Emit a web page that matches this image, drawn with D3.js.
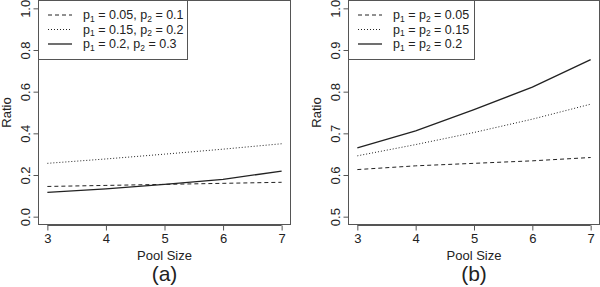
<!DOCTYPE html>
<html lang="en">
<head>
    <meta charset="UTF-8">
    <title>Ratio vs Pool Size</title>
    <script src="https://d3js.org/d3.v7.min.js"></script>
    <style>
        body { margin: 0; background: #fff; }
        text { font-family: "Liberation Sans", Arial, sans-serif; fill: #222; }
        .frame { fill: none; stroke: #555; stroke-width: 1px; }
        .series { fill: none; stroke: #222; }
    </style>
</head>
<body>
    <div id="chart"></div>
    <script>
        var poolSizes = [3, 4, 5, 6, 7];

        // panel (a)
        var seriesA = [
            { label: ["0.05", "0.1"], dash: "dashed", values: [0.145, 0.150, 0.155, 0.160, 0.165] },
            { label: ["0.15", "0.2"], dash: "dotted", values: [0.256, 0.277, 0.300, 0.324, 0.350] },
            { label: ["0.2", "0.3"], dash: "solid", values: [0.117, 0.133, 0.155, 0.179, 0.219] }
        ];
        var yTicksA = [0.0, 0.2, 0.4, 0.6, 0.8, 1.0];

        // panel (b)
        var seriesB = [
            { label: ["0.05"], dash: "dashed", values: [0.613, 0.622, 0.628, 0.634, 0.642] },
            { label: ["0.15"], dash: "dotted", values: [0.646, 0.673, 0.702, 0.734, 0.770] },
            { label: ["0.2"], dash: "solid", values: [0.665, 0.706, 0.757, 0.811, 0.877] }
        ];
        var yTicksB = [0.5, 0.6, 0.7, 0.8, 0.9, 1.0];

        var dashes = { dashed: "4,3", dotted: "1,2", solid: null };
        var colors = { dashed: "#333", dotted: "#777", solid: "#222" };

        var svg = d3.select("#chart").append("svg")
            .attr("width", 600)
            .attr("height", 287);

        function panel(left, right, series, yTicks, tag, sameP) {
            var top = 0, bottom = 225;
            var span = yTicks[5] - yTicks[0];
            var x = d3.scaleLinear().domain([2.84, 7.16]).range([left, right]);
            var y = d3.scaleLinear().domain([yTicks[0] - 0.04 * span, yTicks[5] + 0.04 * span])
                .range([bottom, top]);
            var g = svg.append("g");

            g.append("rect").attr("class", "frame")
                .attr("x", left + 0.5).attr("y", top + 0.5)
                .attr("width", right - left - 1).attr("height", bottom - top - 1);

            var xAxis = g.append("g")
                .attr("transform", "translate(0," + (bottom + 0.5) + ")")
                .call(d3.axisBottom(x).tickValues(poolSizes).tickSize(5).tickPadding(3).tickFormat(d3.format("d")));
            xAxis.select(".domain").attr("d", "M" + x(3) + ",0H" + x(7)).attr("stroke", "#555");
            xAxis.selectAll("line").attr("stroke", "#555");
            xAxis.selectAll("text").attr("font-size", 13);

            var yAxis = g.append("g")
                .attr("transform", "translate(" + (left + 0.5) + ",0)")
                .call(d3.axisLeft(y).tickValues(yTicks).tickSize(5).tickFormat(d3.format(".1f")));
            yAxis.select(".domain").attr("d", "M0," + y(yTicks[0]) + "V" + y(yTicks[5])).attr("stroke", "#555");
            yAxis.selectAll("line").attr("stroke", "#555");
            yAxis.selectAll("text")
                .attr("font-size", 13)
                .attr("text-anchor", "middle")
                .attr("x", null).attr("dy", null)
                .attr("transform", "translate(-9,0) rotate(-90)");

            g.append("text").attr("font-size", 13).attr("text-anchor", "middle")
                .attr("x", (left + right) / 2).attr("y", 260).text("Pool Size");
            g.append("text").attr("font-size", 13).attr("text-anchor", "middle")
                .attr("transform", "translate(" + (left - 27) + "," + ((top + bottom) / 2) + ") rotate(-90)")
                .text("Ratio");
            g.append("text").attr("font-size", 21).attr("text-anchor", "middle")
                .attr("x", (left + right) / 2).attr("y", 281).text(tag);

            var line = d3.line()
                .x(function (d, i) { return x(poolSizes[i]); })
                .y(function (d) { return y(d); });

            g.selectAll("path.series").data(series).enter().append("path")
                .attr("class", "series")
                .attr("stroke", function (d) { return colors[d.dash]; })
                .attr("stroke-width", function (d) { return d.dash === "solid" ? 1.3 : 1; })
                .attr("stroke-dasharray", function (d) { return dashes[d.dash]; })
                .attr("d", function (d) { return line(d.values); });

            // legend
            var legW = sameP ? 126 : 149;
            var leg = g.append("g");
            leg.append("rect").attr("class", "frame")
                .attr("x", left + 0.5).attr("y", 0.5).attr("width", legW).attr("height", 59);
            series.forEach(function (s, i) {
                var ly = 15 + i * 14.5;
                leg.append("line").attr("class", "series")
                    .attr("x1", left + 10).attr("x2", left + 34)
                    .attr("y1", ly).attr("y2", ly)
                    .attr("stroke", colors[s.dash])
                    .attr("stroke-width", s.dash === "solid" ? 1.3 : 1)
                    .attr("stroke-dasharray", dashes[s.dash]);
                var t = leg.append("text").attr("font-size", 12.5)
                    .attr("x", left + 45).attr("y", ly + 4);
                t.append("tspan").text("p");
                t.append("tspan").attr("font-size", 8.5).attr("dy", 2.5).text("1");
                if (sameP) {
                    t.append("tspan").attr("dy", -2.5).text(" = p");
                    t.append("tspan").attr("font-size", 8.5).attr("dy", 2.5).text("2");
                    t.append("tspan").attr("dy", -2.5).text(" = " + s.label[0]);
                } else {
                    t.append("tspan").attr("dy", -2.5).text(" = " + s.label[0] + ", p");
                    t.append("tspan").attr("font-size", 8.5).attr("dy", 2.5).text("2");
                    t.append("tspan").attr("dy", -2.5).text(" = " + s.label[1]);
                }
            });
        }

        panel(38, 291, seriesA, yTicksA, "(a)", false);
        panel(348, 600, seriesB, yTicksB, "(b)", true);
    </script>
</body>
</html>
